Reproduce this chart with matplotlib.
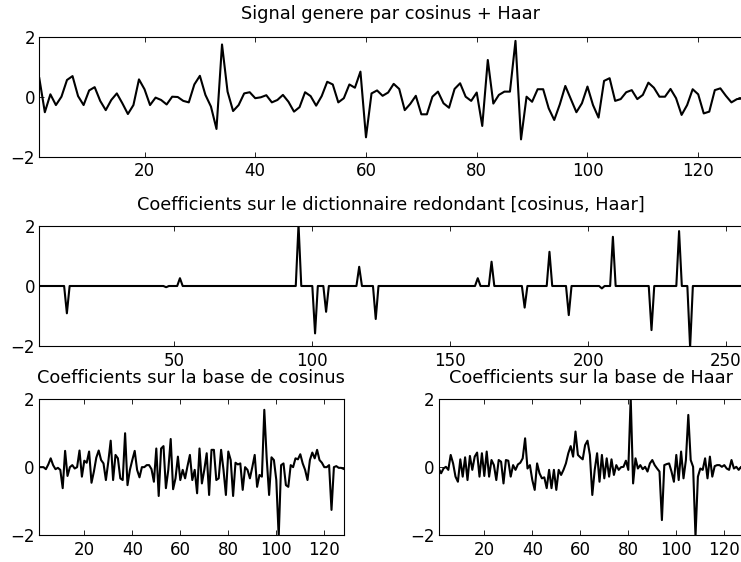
"""Signal cosinus + Haar and its coefficients on three dictionaries."""

import matplotlib

matplotlib.use("Agg")

import matplotlib.pyplot as plt
import numpy as np


# signal genere par cosinus + Haar (128 samples)
signal = [
    0.63, -0.51, 0.09, -0.27, 0.01, 0.57, 0.70, 0.03, -0.27, 0.22,
    0.33, -0.13, -0.44, -0.10, 0.12, -0.21, -0.57, -0.27, 0.59, 0.26,
    -0.27, -0.02, -0.10, -0.25, 0.01, 0.00, -0.13, -0.18, 0.42, 0.71,
    0.07, -0.32, -1.07, 1.76, 0.18, -0.47, -0.27, 0.12, 0.16, -0.04,
    -0.01, 0.06, -0.18, -0.10, 0.07, -0.16, -0.49, -0.34, 0.16, 0.03,
    -0.29, 0.03, 0.51, 0.42, -0.18, -0.04, 0.42, 0.31, 0.85, -1.35,
    0.12, 0.22, 0.04, 0.15, 0.44, 0.27, -0.44, -0.23, 0.04, -0.58,
    -0.58, 0.01, 0.18, -0.21, -0.36, 0.27, 0.46, 0.01, -0.13, 0.15,
    -0.97, 1.24, -0.22, 0.07, 0.18, 0.18, 1.88, -1.42, 0.01, -0.16,
    0.26, 0.26, -0.38, -0.77, -0.25, 0.37, -0.07, -0.51, -0.21, 0.35,
    -0.27, -0.69, 0.54, 0.63, -0.13, -0.07, 0.16, 0.23, -0.07, 0.07,
    0.48, 0.31, 0.01, 0.01, 0.27, -0.04, -0.60, -0.27, 0.26, 0.09,
    -0.55, -0.49, 0.23, 0.29, 0.04, -0.18, -0.07, -0.05,
]

# dictionnaire redondant [cosinus, Haar]: 256 coefficients, sparse
dict_size = 256
dict_index = [11, 47, 52, 95, 101, 105, 117, 123, 160, 165, 177, 186, 193, 205, 209, 223, 233, 237]
dict_value = [-0.91, -0.04, 0.26, 2.05, -1.58, -0.86, 0.64, -1.10, 0.26, 0.81,
              -0.72, 1.14, -0.97, -0.08, 1.64, -1.47, 1.83, -2.05]

# coefficients sur la base de cosinus (128)
cos_coef = [
    0.00, 0.00, 0.00, -0.06, 0.08, 0.26, 0.06, -0.06, -0.02, -0.08,
    -0.62, 0.48, -0.26, 0.00, 0.06, -0.04, 0.00, 0.49, -0.28, 0.19,
    0.13, 0.46, -0.46, -0.13, 0.28, 0.49, 0.21, 0.11, -0.38, 0.16,
    0.78, -0.38, 0.36, 0.26, -0.33, -0.38, 1.00, -0.53, -0.08, 0.21,
    0.48, -0.08, -0.30, 0.00, 0.00, 0.06, 0.06, -0.06, -0.43, 0.55,
    -0.85, 0.55, 0.62, -0.62, -0.08, 0.83, -0.65, -0.33, 0.31, -0.38,
    -0.08, -0.33, 0.03, 0.36, -0.38, -0.08, -0.77, 0.55, -0.48, -0.08,
    0.41, -0.82, 0.51, 0.51, -0.38, -0.33, 0.51, -0.08, -0.82, 0.46,
    0.21, -0.85, 0.13, 0.08, 0.11, -0.67, 0.00, -0.08, -0.33, 0.00,
    0.36, -0.58, -0.23, -0.28, 1.69, 0.26, -0.82, 0.29, 0.21, -0.38,
    -2.05, 0.06, 0.11, -0.53, -0.58, 0.06, 0.00, 0.26, 0.23, 0.38,
    0.11, -0.08, -0.38, 0.21, 0.43, 0.26, 0.51, 0.21, 0.13, 0.00,
    0.00, 0.06, -1.26, 0.00, 0.03, -0.02, -0.02, -0.05,
]

# coefficients sur la base de Haar (128)
haar_coef = [
    -0.04, -0.18, -0.04, 0.01, -0.08, 0.36, 0.11, -0.28, -0.43, 0.23,
    -0.28, 0.29, -0.38, 0.33, -0.08, 0.31, 0.43, -0.28, 0.41, -0.26,
    0.46, -0.28, 0.21, 0.06, -0.38, 0.21, 0.16, -0.48, 0.21, 0.19,
    -0.28, 0.06, -0.08, 0.08, 0.13, 0.26, 0.85, -0.04, 0.06, -0.38,
    -0.67, 0.11, -0.18, -0.33, -0.30, -0.62, -0.08, -0.62, -0.08, -0.67,
    -0.08, -0.23, -0.08, 0.11, 0.41, 0.62, 0.31, 1.05, 0.36, 0.29,
    0.23, 0.65, 0.78, 0.36, -0.82, -0.08, 0.41, -0.43, 0.36, -0.33,
    0.26, -0.28, 0.23, -0.23, 0.06, -0.08, 0.00, 0.01, 0.19, -0.08,
    2.05, -0.48, 0.26, -0.04, 0.06, -0.06, 0.01, -0.13, 0.11, 0.21,
    0.06, -0.04, -0.13, -1.56, 0.06, 0.09, 0.11, -0.13, -0.43, 0.36,
    -0.38, 0.46, -0.33, 0.21, 1.54, 0.21, 0.01, -2.05, -0.28, -0.04,
    -0.08, 0.26, -0.33, 0.31, -0.28, 0.03, 0.06, 0.06, 0.01, 0.06,
    -0.04, -0.08, 0.21, -0.04, 0.01, -0.08, 0.01, -0.08,
]

titles = [
    "Signal genere par cosinus + Haar",
    "Coefficients sur le dictionnaire redondant [cosinus, Haar]",
    "Coefficients sur la base de cosinus",
    "Coefficients sur la base de Haar",
]


def style_axes(ax, n, xticks, title, pad):
    ax.set_xlim(1, n)
    ax.set_ylim(-2, 2)
    ax.set_xticks(xticks)
    ax.set_yticks([-2, 0, 2])
    ax.tick_params(direction="in", top=True, right=True, length=3.5, width=0.6)
    ax.tick_params(axis="x", pad=4)
    ax.tick_params(axis="y", pad=3)
    for s in ax.spines.values():
        s.set_linewidth(0.8)
    ax.set_title(title, pad=pad)


def main():
    plt.rcParams.update({
        "font.family": "DejaVu Sans",
        "font.size": 12,
        "axes.titlesize": 12.8,
        "xtick.labelsize": 12,
        "ytick.labelsize": 12,
    })

    W, H = 741, 562
    fig = plt.figure(figsize=(W / 100, H / 100), dpi=100)

    def px_axes(left, top, right, bottom):
        return fig.add_axes([left / W, 1 - bottom / H, (right - left) / W, (bottom - top) / H])

    lw = 1.5

    ax1 = px_axes(39.3, 37.3, 742.5, 156.7)
    x1 = np.arange(1, len(signal) + 1)
    ax1.plot(x1, signal, color="black", linewidth=lw)
    style_axes(ax1, len(signal), range(20, 121, 20), titles[0], 13)

    coef = np.zeros(dict_size)
    coef[np.array(dict_index) - 1] = dict_value
    ax2 = px_axes(39.3, 226, 742.5, 346)
    ax2.plot(np.arange(1, dict_size + 1), coef, color="black", linewidth=lw)
    style_axes(ax2, dict_size, range(50, 251, 50), titles[1], 11.5)

    ax3 = px_axes(38.7, 399.3, 343.5, 535)
    ax3.plot(np.arange(1, len(cos_coef) + 1), cos_coef, color="black", linewidth=lw)
    style_axes(ax3, len(cos_coef), range(20, 121, 20), titles[2], 11.5)

    ax4 = px_axes(438.7, 399.3, 743.5, 535)
    ax4.plot(np.arange(1, len(haar_coef) + 1), haar_coef, color="black", linewidth=lw)
    style_axes(ax4, len(haar_coef), range(20, 121, 20), titles[3], 11.5)

    fig.savefig("out.png", dpi=100, facecolor="white")
    plt.close(fig)


if __name__ == "__main__":
    main()
